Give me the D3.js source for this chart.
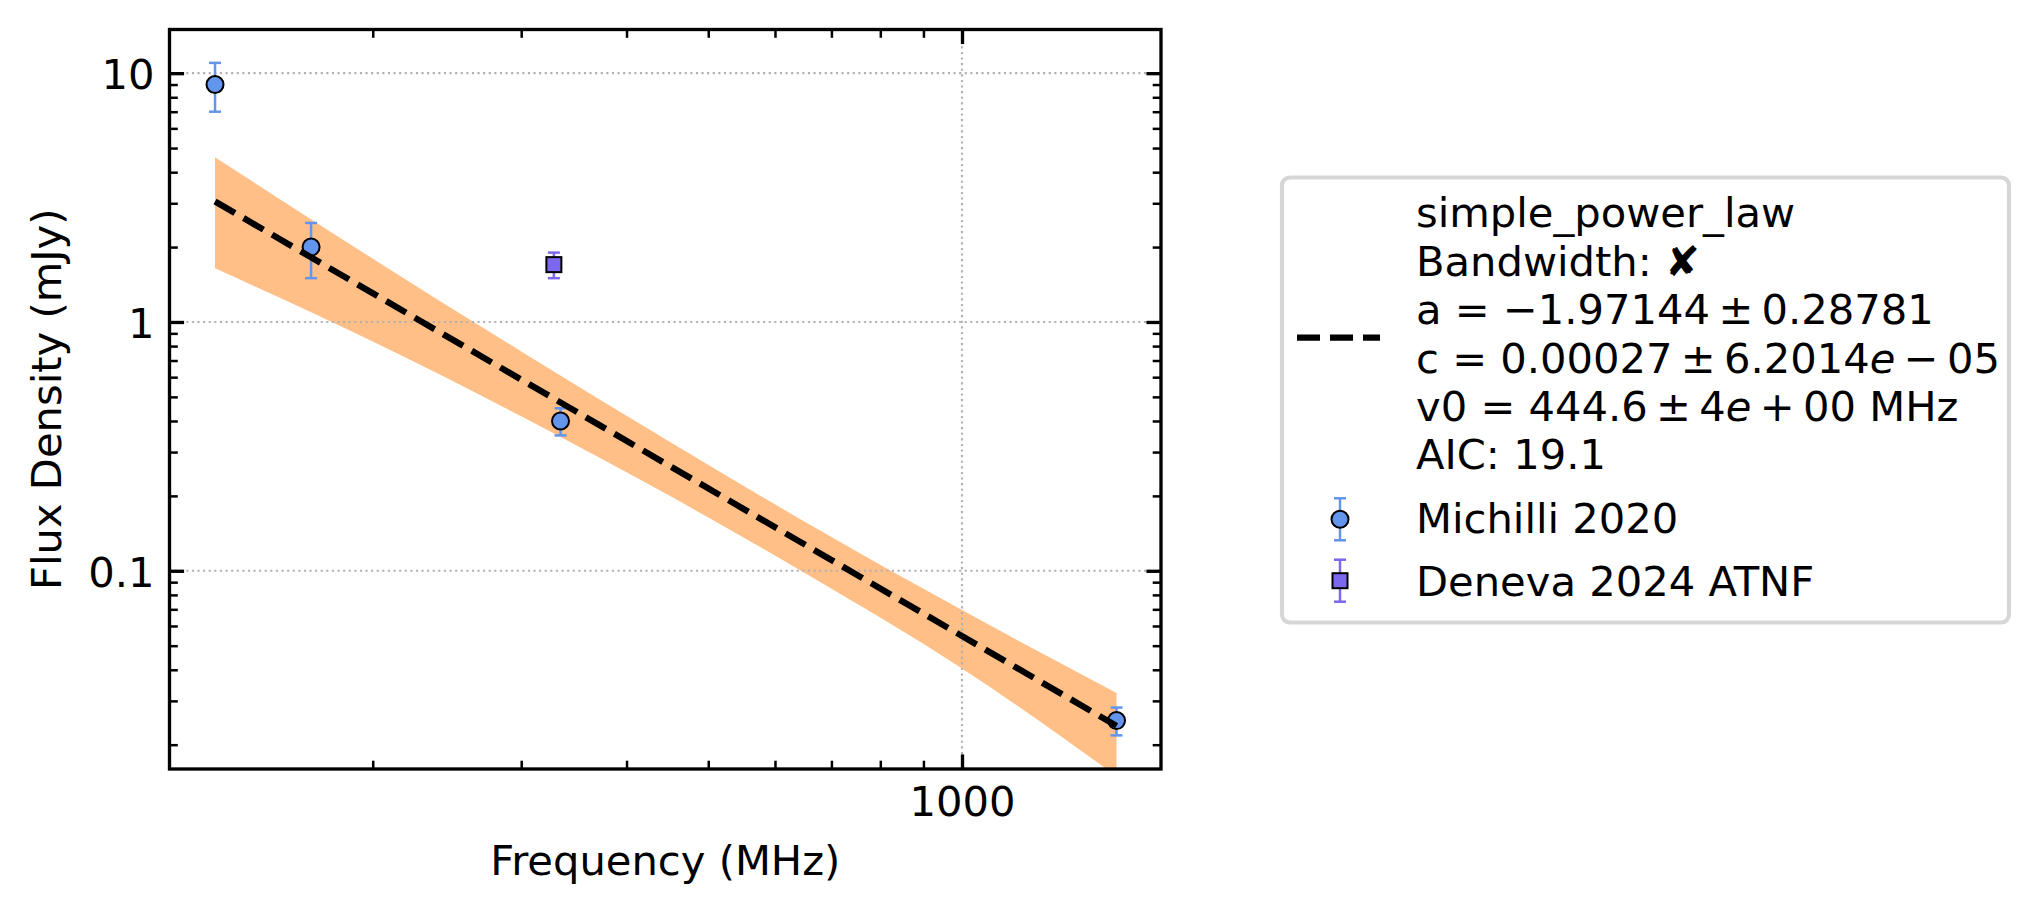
<!DOCTYPE html>
<html>
<head>
<meta charset="utf-8">
<title>Flux density spectrum</title>
<script src="https://cdn.jsdelivr.net/npm/d3@7"></script>
<style>
  body { margin: 0; background: #fff; }
  text { font-family: "DejaVu Sans", sans-serif; }
</style>
</head>
<body>
<svg id="graph" width="2040" height="914"></svg>
<script>
// values
const michilliFreq = [130, 169, 334, 1525];
const michilliFlux = [9.0, 2.0, 0.4, 0.025];
const michilliErr  = [2.0, 0.5, 0.05, 0.0032];

const denevaFreq = [328];
const denevaFlux = [1.7];
const denevaErr  = [0.2];

const fitFreq = [130, 1525];
const fitFlux = [3.05, 0.0238];

const bandFreq = [130, 200, 300, 450, 650, 1000, 1525];
const bandLow  = [1.644, 0.834, 0.418, 0.2001, 0.0982, 0.0405, 0.01494];
const bandHigh = [4.59, 1.796, 0.761, 0.330, 0.1578, 0.0695, 0.0323];

const xMajor = [1000];
const xTickLabels = ["1000"];
const xMinor = [200, 300, 400, 500, 600, 700, 800, 900];
const yMajor = [0.1, 1, 10];
const yTickLabels = ["0.1", "1", "10"];
const yMinor = [0.02,0.03,0.04,0.05,0.06,0.07,0.08,0.09,0.2,0.3,0.4,0.5,0.6,0.7,0.8,0.9,2,3,4,5,6,7,8,9];

const legendLines = [
  "simple_power_law",
  "Bandwidth: \u2718",
  "a = \u22121.97144\u2009\u00b1\u20090.28781",
  ["c = 0.00027\u2009\u00b1\u20096.2014", "e", "\u2009\u2212\u200905"],
  ["v0 = 444.6\u2009\u00b1\u20094", "e", "\u2009+\u200900 MHz"],
  "AIC: 19.1"
];

const fs = 41.67;
const svg = d3.select("#graph");
const plot = {left: 169.5, right: 1161, top: 29.5, bottom: 769};

const x = d3.scaleLog().domain([114.8, 1722]).range([plot.left, plot.right]);
const y = d3.scaleLog().domain([0.01597, 14.98]).range([plot.bottom, plot.top]);

svg.append("rect").attr("width", 2040).attr("height", 914).attr("fill", "#fff");

svg.append("clipPath").attr("id", "clip")
  .append("rect")
  .attr("x", plot.left).attr("y", plot.top)
  .attr("width", plot.right - plot.left).attr("height", plot.bottom - plot.top);

// uncertainty band
const band = d3.area()
  .x((d, i) => x(bandFreq[i]))
  .y0((d, i) => y(bandLow[i]))
  .y1((d, i) => y(bandHigh[i]))
  .curve(d3.curveMonotoneX);

svg.append("path")
  .attr("clip-path", "url(#clip)")
  .attr("d", band(bandFreq))
  .attr("fill", "#ff7f0e")
  .attr("fill-opacity", 0.5);

// grid
svg.append("g").selectAll("line").data(yMajor).enter().append("line")
  .attr("x1", plot.left).attr("x2", plot.right)
  .attr("y1", d => y(d)).attr("y2", d => y(d))
  .attr("stroke", "#b0b0b0").attr("stroke-width", 2.1)
  .attr("stroke-dasharray", "2.1,3.5");
svg.append("g").selectAll("line").data(xMajor).enter().append("line")
  .attr("y1", plot.top).attr("y2", plot.bottom)
  .attr("x1", d => x(d)).attr("x2", d => x(d))
  .attr("stroke", "#b0b0b0").attr("stroke-width", 2.1)
  .attr("stroke-dasharray", "2.1,3.5");

// error bars + markers
function errorBars(freq, flux, err, color) {
  const g = svg.append("g");
  freq.forEach((f, i) => {
    const cx = x(f), lo = y(flux[i] - err[i]), hi = y(flux[i] + err[i]);
    g.append("line").attr("x1", cx).attr("x2", cx).attr("y1", lo).attr("y2", hi)
      .attr("stroke", color).attr("stroke-width", 2.5);
    [lo, hi].forEach(v => {
      g.append("line").attr("x1", cx - 6).attr("x2", cx + 6).attr("y1", v).attr("y2", v)
        .attr("stroke", color).attr("stroke-width", 2.5);
    });
  });
  return g;
}

errorBars(michilliFreq, michilliFlux, michilliErr, "#6495ed")
  .selectAll("circle").data(michilliFreq).enter().append("circle")
  .attr("cx", d => x(d)).attr("cy", (d, i) => y(michilliFlux[i]))
  .attr("r", 8.5).attr("fill", "#6495ed").attr("stroke", "#000").attr("stroke-width", 2);

errorBars(denevaFreq, denevaFlux, denevaErr, "#7b68ee")
  .selectAll("rect").data(denevaFreq).enter().append("rect")
  .attr("x", d => x(d) - 7.5).attr("y", (d, i) => y(denevaFlux[i]) - 7.5)
  .attr("width", 15).attr("height", 15)
  .attr("fill", "#7b68ee").attr("stroke", "#000").attr("stroke-width", 2);

// fitted power law
const fitLine = d3.line().x((d, i) => x(fitFreq[i])).y((d, i) => y(fitFlux[i]));
svg.append("path")
  .attr("clip-path", "url(#clip)")
  .attr("d", fitLine(fitFreq))
  .attr("fill", "none").attr("stroke", "#000")
  .attr("stroke-width", 6.25).attr("stroke-dasharray", "23,10");

// axes, ticks pointing inward on all sides
function drawAxis(axis, tx, ty, width) {
  const g = svg.append("g").attr("transform", `translate(${tx},${ty})`).call(axis);
  g.select(".domain").remove();
  g.attr("font-family", null).attr("font-size", null);
  g.selectAll("line").attr("stroke", "#000").attr("stroke-width", width);
  g.selectAll("text").attr("font-size", fs).attr("fill", "#000");
  return g;
}

drawAxis(d3.axisBottom(x).tickValues(xMajor).tickSize(-14.6).tickPadding(17)
  .tickFormat((d, i) => xTickLabels[i]), 0, plot.bottom, 3.33);
drawAxis(d3.axisBottom(x).tickValues(xMinor).tickSize(-8.3).tickFormat(""), 0, plot.bottom, 2.5);
drawAxis(d3.axisTop(x).tickValues(xMajor).tickSize(-14.6).tickFormat(""), 0, plot.top, 3.33);
drawAxis(d3.axisTop(x).tickValues(xMinor).tickSize(-8.3).tickFormat(""), 0, plot.top, 2.5);

drawAxis(d3.axisLeft(y).tickValues(yMajor).tickSize(-14.6).tickPadding(15)
  .tickFormat((d, i) => yTickLabels[i]), plot.left, 0, 3.33)
  .selectAll("text").attr("dy", "0.37em");
drawAxis(d3.axisLeft(y).tickValues(yMinor).tickSize(-8.3).tickFormat(""), plot.left, 0, 2.5);
drawAxis(d3.axisRight(y).tickValues(yMajor).tickSize(-14.6).tickFormat(""), plot.right, 0, 3.33);
drawAxis(d3.axisRight(y).tickValues(yMinor).tickSize(-8.3).tickFormat(""), plot.right, 0, 2.5);

svg.append("rect")
  .attr("x", plot.left).attr("y", plot.top)
  .attr("width", plot.right - plot.left).attr("height", plot.bottom - plot.top)
  .attr("fill", "none").attr("stroke", "#000").attr("stroke-width", 3.33);

// axis titles
svg.append("text")
  .attr("x", (plot.left + plot.right) / 2).attr("y", 875)
  .attr("text-anchor", "middle").attr("font-size", fs)
  .text("Frequency (MHz)");

svg.append("text")
  .attr("transform", `translate(61,${(plot.top + plot.bottom) / 2}) rotate(-90)`)
  .attr("text-anchor", "middle").attr("font-size", fs)
  .text("Flux Density (mJy)");

// legend
const leg = svg.append("g");
leg.append("rect")
  .attr("x", 1282).attr("y", 177.5).attr("width", 727).attr("height", 445)
  .attr("rx", 8).attr("fill", "#fff").attr("fill-opacity", 0.8)
  .attr("stroke", "#d6d6d6").attr("stroke-width", 4.17);

leg.append("line")
  .attr("x1", 1297).attr("x2", 1380).attr("y1", 337.7).attr("y2", 337.7)
  .attr("stroke", "#000").attr("stroke-width", 6.25).attr("stroke-dasharray", "23,10");

const lineY = [226.5, 275.5, 323.5, 372.5, 420.5, 468.5];
legendLines.forEach((ln, i) => {
  const t = leg.append("text").attr("x", 1416).attr("y", lineY[i]).attr("font-size", fs);
  if (typeof ln === "string") {
    t.text(ln);
  } else {
    t.append("tspan").text(ln[0]);
    t.append("tspan").attr("font-style", "italic").text(ln[1]);
    t.append("tspan").text(ln[2]);
  }
});

const legendMarks = [
  {label: "Michilli 2020", color: "#6495ed", shape: "circle", cy: 519.3, ty: 533},
  {label: "Deneva 2024 ATNF", color: "#7b68ee", shape: "square", cy: 580.7, ty: 596}
];
legendMarks.forEach(m => {
  const cx = 1340;
  leg.append("line").attr("x1", cx).attr("x2", cx).attr("y1", m.cy - 21).attr("y2", m.cy + 21)
    .attr("stroke", m.color).attr("stroke-width", 2.5);
  [m.cy - 21, m.cy + 21].forEach(v => {
    leg.append("line").attr("x1", cx - 6).attr("x2", cx + 6).attr("y1", v).attr("y2", v)
      .attr("stroke", m.color).attr("stroke-width", 2.5);
  });
  if (m.shape === "circle") {
    leg.append("circle").attr("cx", cx).attr("cy", m.cy).attr("r", 8.5)
      .attr("fill", m.color).attr("stroke", "#000").attr("stroke-width", 2);
  } else {
    leg.append("rect").attr("x", cx - 7.5).attr("y", m.cy - 7.5).attr("width", 15).attr("height", 15)
      .attr("fill", m.color).attr("stroke", "#000").attr("stroke-width", 2);
  }
  leg.append("text").attr("x", 1416).attr("y", m.ty).attr("font-size", fs).text(m.label);
});
</script>
</body>
</html>
